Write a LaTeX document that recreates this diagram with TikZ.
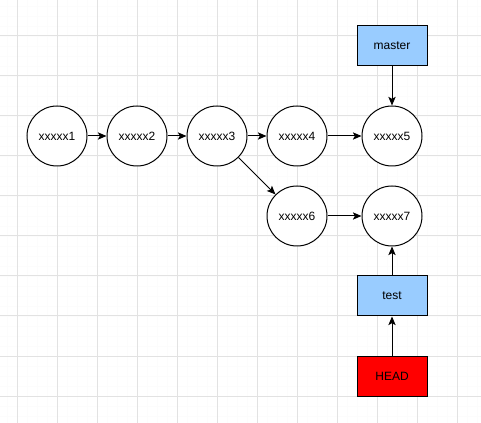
\documentclass[tikz,border=0pt]{standalone}
\usepackage{fontspec}
\setmainfont{Liberation Sans}
\usetikzlibrary{arrows.meta}
\definecolor{gridmaj}{HTML}{E2E2E2}
\definecolor{gridmin}{HTML}{FCFCFC}
\definecolor{boxblue}{HTML}{99CCFF}
\begin{document}
\begin{tikzpicture}[x=0.75pt,y=-0.75pt,
  commit/.style={circle,draw=black,line width=0.75pt,fill=white,minimum size=60*0.75pt,inner sep=0pt,font=\fontsize{9}{10}\selectfont},
  label box/.style={rectangle,draw=black,line width=0.75pt,minimum width=70*0.75pt,minimum height=40*0.75pt,inner sep=0pt,font=\fontsize{9}{10}\selectfont},
  conn/.style={line width=0.75pt,-{Stealth[length=6.5pt,width=5.5pt,inset=1.5pt]}}]
\useasboundingbox (0,0) rectangle (481,423);
\fill[white] (0,0) rectangle (481,423);
% minor grid
\foreach \x in {7,17,...,477} \draw[gridmin,line width=0.4pt] (\x,0) -- (\x,423);
\foreach \y in {6,16,...,416} \draw[gridmin,line width=0.4pt] (0,\y) -- (481,\y);
% major grid
\foreach \x in {17,57,...,457} \draw[gridmaj,line width=0.75pt] (\x,0) -- (\x,423);
\foreach \y in {36,76,...,396} \draw[gridmaj,line width=0.75pt] (0,\y) -- (481,\y);
% commits
\node[commit] (c1) at (57,136) {xxxxx1};
\node[commit] (c2) at (137,136) {xxxxx2};
\node[commit] (c3) at (217,136) {xxxxx3};
\node[commit] (c4) at (297,136) {xxxxx4};
\node[commit] (c5) at (392,136) {xxxxx5};
\node[commit] (c6) at (297,216) {xxxxx6};
\node[commit] (c7) at (392,216) {xxxxx7};
% labels
\node[label box,fill=boxblue] (master) at (392,46) {master};
\node[label box,fill=boxblue] (test) at (392,296) {test};
\node[label box,fill=red] (head) at (392,376) {HEAD};
% connectors
\draw[conn] (c1) -- (c2);
\draw[conn] (c2) -- (c3);
\draw[conn] (c3) -- (c4);
\draw[conn] (c4) -- (c5);
\draw[conn] (c3) -- (c6);
\draw[conn] (c6) -- (c7);
\draw[conn] (master) -- (c5);
\draw[conn] (test) -- (c7);
\draw[conn] (head) -- (test);
\end{tikzpicture}
\end{document}
